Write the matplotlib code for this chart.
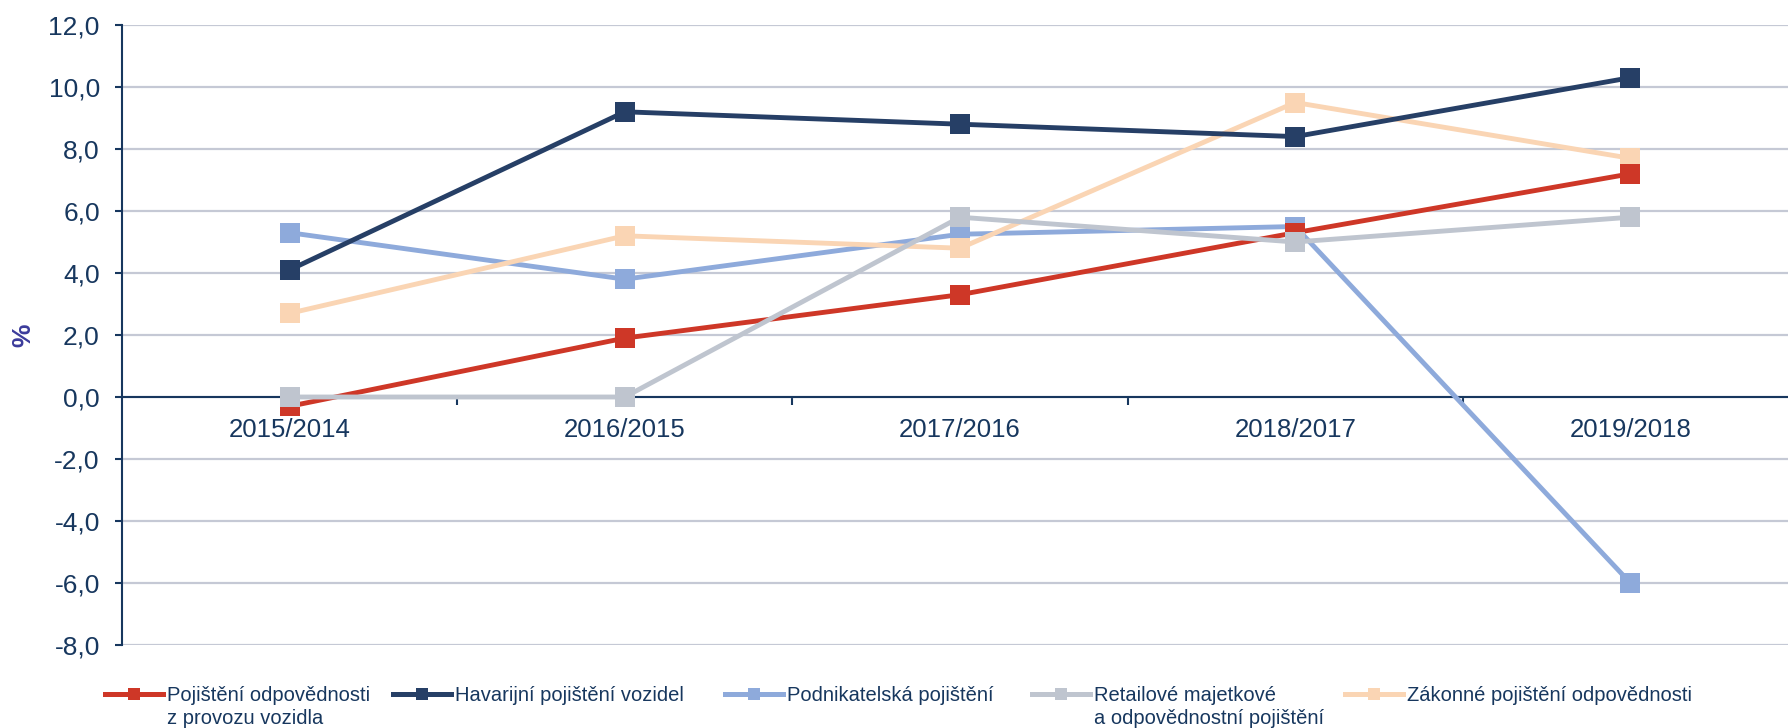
import matplotlib.pyplot as plt
from matplotlib.lines import Line2D
import numpy as np

plt.rcParams['font.family'] = ['Liberation Sans', 'DejaVu Sans']

categories = ["2015/2014", "2016/2015", "2017/2016", "2018/2017", "2019/2018"]

odpovednost_vozidla = [-0.3, 1.9, 3.3, 5.3, 7.2]
havarijni = [4.1, 9.2, 8.8, 8.4, 10.3]
podnikatelska = [5.3, 3.8, 5.25, 5.5, -6.0]
retailove = [0.0, 0.0, 5.8, 5.0, 5.8]
zakonne = [2.7, 5.2, 4.8, 9.5, 7.7]

labels = [
    "Pojištění odpovědnosti\nz provozu vozidla",
    "Havarijní pojištění vozidel",
    "Podnikatelská pojištění",
    "Retailové majetkové\na odpovědnostní pojištění",
    "Zákonné pojištění odpovědnosti",
]
colors = ["#CE3727", "#263F66", "#8EAADB", "#BFC5CF", "#FAD5B4"]
zorders = [4, 5, 2, 6, 3]
series = [odpovednost_vozidla, havarijni, podnikatelska, retailove, zakonne]

navy = "#17375E"
W, H = 1788, 728

fig = plt.figure(figsize=(W / 100, H / 100), dpi=100)
ax = fig.add_axes([122 / W, (H - 645) / H, (1798 - 122) / W, 620 / H])

x = np.arange(len(categories))
for vals, c, z in zip(series, colors, zorders):
    ax.plot(x, vals, color=c, linewidth=3.5, marker="s", markersize=14.4,
            markeredgewidth=0, zorder=z, clip_on=False)

ax.set_xlim(-0.5, 4.5)
ax.set_ylim(-8, 12)
ax.set_yticks(np.arange(-8, 13, 2))
ax.set_yticklabels([f"{v:.1f}".replace(".", ",") for v in np.arange(-8, 13, 2)])
ax.yaxis.grid(True, color="#C5C9D5", linewidth=1.6, zorder=0)
ax.set_axisbelow(True)

for s in ["top", "right"]:
    ax.spines[s].set_visible(False)
ax.spines["left"].set_color(navy)
ax.spines["left"].set_linewidth(1.5)
ax.spines["bottom"].set_position(("data", 0))
ax.spines["bottom"].set_color(navy)
ax.spines["bottom"].set_linewidth(1.5)
ax.spines["bottom"].set_zorder(1.5)

ax.tick_params(axis="y", direction="out", length=5, width=1.5, color=navy,
               labelsize=19, labelcolor=navy, pad=11)
ax.set_xticks(np.arange(0.5, 4.5, 1.0))
ax.set_xticklabels([])
ax.set_xticks(x, minor=True)
ax.set_xticklabels(categories, minor=True)
ax.tick_params(axis="x", which="major", direction="out", length=6, width=1.5, color=navy)
ax.tick_params(axis="x", which="minor", length=0, labelsize=18.5, labelcolor=navy, pad=15)

fig.text(23 / W, 1 - 335 / H, "%", rotation=90, fontsize=19, fontweight="bold",
         color="#3B3B9B", ha="center", va="center")

# legend: one entry each, second line of label hung under the first
leg_x = [105, 393, 725, 1032, 1345]
legends = []
for lbl, c, lx in zip(labels, colors, leg_x):
    first = lbl.split("\n")[0]
    h = Line2D([], [], color=c, linewidth=3.6, marker="s", markersize=8.6,
               markeredgewidth=0)
    lg = fig.legend(handles=[h], labels=[first], loc="upper left",
                    bbox_to_anchor=(lx / W, 1 - 686 / H), frameon=False,
                    borderpad=0, borderaxespad=0, handlelength=2.9,
                    handletextpad=0.2, fontsize=14.5, labelcolor=navy)
    legends.append(lg)

fig.canvas.draw()
for lbl, lg in zip(labels, legends):
    parts = lbl.split("\n")
    if len(parts) > 1:
        t = lg.get_texts()[0]
        bb = t.get_window_extent()
        fig.text(bb.x0 / W, (bb.y0 - 23) / H, parts[1], fontsize=14.5,
                 color=navy, ha="left", va="bottom")

fig.savefig("out.png", dpi=100)
